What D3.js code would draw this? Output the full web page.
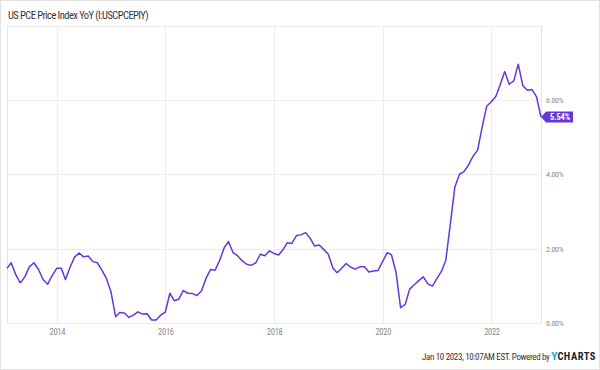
<!DOCTYPE html>
<html>
<head>
<meta charset="utf-8">
<script src="https://cdn.jsdelivr.net/npm/d3@7"></script>
<style>
  body { margin: 0; background: #fff; }
  svg { display: block; font-family: "Roboto Condensed", Roboto, sans-serif; }
</style>
</head>
<body>
<script>
  var width = 600;
  var height = 370;

  // monthly PCE YoY %, Jan 2013 .. Nov 2022
  var startYear = 2013;
  var pceYoY = [
    1.47, 1.62, 1.30, 1.08, 1.24, 1.51, 1.62, 1.44, 1.17, 1.04, 1.27, 1.47,
    1.47, 1.17, 1.50, 1.77, 1.88, 1.78, 1.80, 1.65, 1.62, 1.42, 1.20, 0.84,
    0.17, 0.28, 0.27, 0.15, 0.21, 0.30, 0.24, 0.25, 0.08, 0.08, 0.21, 0.29,
    0.80, 0.60, 0.64, 0.87, 0.80, 0.79, 0.74, 0.87, 1.20, 1.44, 1.42, 1.69,
    2.03, 2.19, 1.89, 1.81, 1.67, 1.58, 1.55, 1.62, 1.85, 1.81, 1.94, 1.87,
    1.83, 1.96, 2.16, 2.14, 2.35, 2.37, 2.43, 2.28, 2.07, 2.10, 1.98, 1.85,
    1.48, 1.35, 1.47, 1.60, 1.50, 1.45, 1.51, 1.51, 1.37, 1.40, 1.41, 1.65,
    1.89, 1.83, 1.35, 0.41, 0.50, 0.91, 1.03, 1.14, 1.24, 1.05, 0.99, 1.20,
    1.40, 1.69, 2.68, 3.66, 4.00, 4.07, 4.25, 4.49, 4.65, 5.28, 5.83, 5.95,
    6.10, 6.40, 6.76, 6.42, 6.51, 6.96, 6.38, 6.26, 6.28, 6.08, 5.54
  ];
  var yTicks = [0, 2, 4, 6];
  var xTickYears = [2014, 2016, 2018, 2020, 2022];

  var lineColor = '#6636d6';

  // points dated at month end
  var data = pceYoY.map(function(v, i) {
    return { date: new Date(startYear, i + 1, 0), value: v };
  });

  var plotL = 7, plotR = 541, plotT = 25.5, plotB = 323;

  var svg = d3.select('body').append('svg')
    .attr('width', width)
    .attr('height', height);

  // outer frame
  svg.append('rect')
    .attr('x', 0.5).attr('y', 0.5)
    .attr('width', width - 1).attr('height', height - 1)
    .attr('fill', 'none')
    .attr('stroke', '#e2e2e2');

  var xScale = d3.scaleTime()
    .domain(d3.extent(data, d => d.date))
    .range([plotL, plotR]);
  var yScale = d3.scaleLinear()
    .domain([0, 8])
    .range([plotB, plotT]);

  // grid
  var grid = svg.append('g');
  grid.selectAll('.hg')
    .data(yTicks.concat([8]))
    .enter().append('line')
    .attr('x1', plotL).attr('x2', plotR)
    .attr('y1', d => Math.round(yScale(d)) + 0.5)
    .attr('y2', d => Math.round(yScale(d)) + 0.5)
    .attr('stroke', '#ececec');
  grid.selectAll('.vg')
    .data(xTickYears.map(y => new Date(y, 0, 1)))
    .enter().append('line')
    .attr('x1', d => Math.round(xScale(d)) + 0.5)
    .attr('x2', d => Math.round(xScale(d)) + 0.5)
    .attr('y1', plotT).attr('y2', plotB)
    .attr('stroke', '#ececec');
  grid.selectAll('.edge')
    .data([plotL, plotR])
    .enter().append('line')
    .attr('x1', d => d + 0.5).attr('x2', d => d + 0.5)
    .attr('y1', plotT).attr('y2', plotB)
    .attr('stroke', '#e4e4e4');

  // axes labels
  var yAxis = d3.axisRight(yScale)
    .tickValues(yTicks)
    .tickSize(0)
    .tickPadding(0)
    .tickFormat(d => d3.format('.2f')(d) + '%');
  var gy = svg.append('g')
    .attr('transform', 'translate(546,0)')
    .call(yAxis);
  gy.select('.domain').remove();
  gy.selectAll('text')
    .attr('fill', '#8a8a8a')
    .style('font-size', '8px')
    .style('letter-spacing', '-0.3px')
    .style('font-family', '"Roboto Condensed", Roboto, sans-serif');

  var xAxis = d3.axisBottom(xScale)
    .tickValues(xTickYears.map(y => new Date(y, 0, 1)))
    .tickSize(0)
    .tickPadding(6)
    .tickFormat(d3.timeFormat('%Y'));
  var gx = svg.append('g')
    .attr('transform', 'translate(0,' + plotB + ')')
    .call(xAxis);
  gx.select('.domain').remove();
  gx.selectAll('text')
    .attr('fill', '#8a8a8a')
    .style('font-size', '8.5px')
    .style('letter-spacing', '-0.3px')
    .style('font-family', '"Roboto Condensed", Roboto, sans-serif');

  // line
  var line = d3.line()
    .x(d => xScale(d.date))
    .y(d => yScale(d.value));
  svg.append('path')
    .datum(data)
    .attr('d', line)
    .attr('fill', 'none')
    .attr('stroke', lineColor)
    .attr('stroke-width', 1.5)
    .attr('stroke-linejoin', 'round');

  // last value tag
  var last = data[data.length - 1];
  var lx = xScale(last.date), ly = yScale(last.value);
  svg.append('path')
    .attr('d', 'M' + lx + ',' + ly + 'L' + (lx + 5) + ',' + (ly - 5.5) + 'H' + (lx + 32) +
      'V' + (ly + 5.5) + 'H' + (lx + 5) + 'Z')
    .attr('fill', lineColor);
  svg.append('text')
    .attr('x', lx + 19)
    .attr('y', ly + 3)
    .attr('text-anchor', 'middle')
    .attr('fill', '#fff')
    .style('font-size', '8.5px')
    .style('font-weight', 'bold')
    .style('letter-spacing', '-0.2px')
    .text(d3.format('.2f')(last.value) + '%');

  // title
  svg.append('text')
    .attr('x', 8)
    .attr('y', 19)
    .attr('fill', '#333')
    .style('font-size', '10.5px')
    .style('letter-spacing', '-0.55px')
    .text('US PCE Price Index YoY (I:USCPCEPIY)');

  // footer
  var foot = svg.append('text')
    .attr('x', 596)
    .attr('y', 360)
    .attr('text-anchor', 'end');
  foot.append('tspan')
    .attr('fill', '#333')
    .style('font-size', '9px')
    .style('letter-spacing', '-0.35px')
    .text('Jan 10 2023, 10:07AM EST. Powered by ');
  foot.append('tspan')
    .attr('fill', '#1fa3e8')
    .style('font-size', '11.5px')
    .style('font-weight', 'bold')
    .text('Y');
  foot.append('tspan')
    .attr('fill', '#1b1f2e')
    .style('font-size', '10.5px')
    .style('font-weight', 'bold')
    .style('letter-spacing', '0.5px')
    .text('CHARTS');
</script>
</body>
</html>
